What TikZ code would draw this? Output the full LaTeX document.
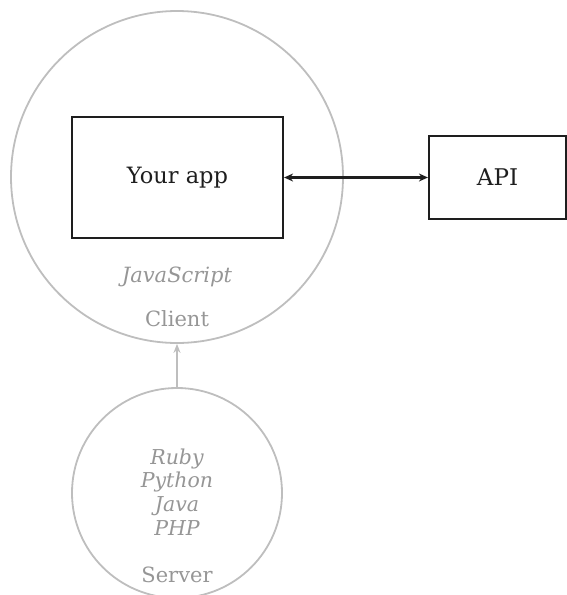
\documentclass[tikz,border=0pt]{standalone}
\usepackage{fontspec}
\setmainfont{DejaVu Serif}
\usetikzlibrary{arrows.meta}
\definecolor{ringgray}{RGB}{190,190,190}
\definecolor{textgray}{RGB}{150,150,150}
\definecolor{boxdark}{RGB}{30,30,30}
\begin{document}
\begin{tikzpicture}[x=1pt,y=-1pt,
  ring/.style={draw=ringgray,line width=1.8pt,circle,inner sep=0pt},
  appbox/.style={draw=boxdark,line width=2.2pt,rectangle,inner sep=0pt,text=boxdark},
  graytext/.style={text=textgray,inner sep=0pt},
  link/.style={draw=boxdark,line width=2.1pt,{Stealth[length=9pt,width=8pt]}-{Stealth[length=9pt,width=8pt]}},
  uplink/.style={draw=ringgray,line width=1.8pt,-{Stealth[length=9pt,width=7pt]}}]
\useasboundingbox (0,0) rectangle (567,595);
\clip (0,0) rectangle (567,595);
\node[ring,minimum size=332pt] (client) at (177,177) {};
\node[ring,minimum size=210pt] (server) at (177,493) {};
\node[appbox,minimum width=211pt,minimum height=121pt,font=\fontsize{22.5}{26}\selectfont] (app) at (177.5,177.5) {Your app};
\node[appbox,minimum width=137pt,minimum height=83pt,font=\fontsize{23}{26}\selectfont] (api) at (497.5,177.5) {API};
\node[graytext,font=\fontsize{21}{24}\selectfont\itshape] (js) at (177,277) {JavaScript};
\node[graytext,font=\fontsize{21}{24}\selectfont] (clientlbl) at (177,319) {Client};
\node[graytext,font=\fontsize{20.5}{23.8}\selectfont\itshape,align=center] (langs) at (177,492) {Ruby\\Python\\Java\\PHP};
\node[graytext,font=\fontsize{21}{24}\selectfont] (serverlbl) at (177,575) {Server};
\draw[link] (app.east) -- (api.west);
\draw[uplink] (server.north) -- (client.south);
\end{tikzpicture}
\end{document}
